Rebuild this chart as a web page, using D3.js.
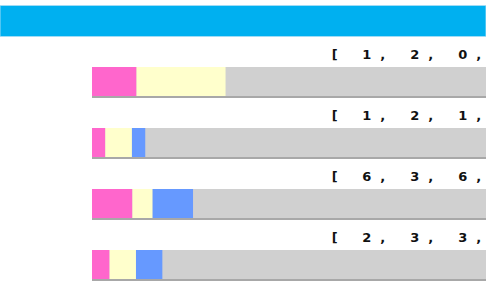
<!DOCTYPE html>
<html>
<head>
<meta charset="utf-8">
<script src="https://cdn.jsdelivr.net/npm/d3@7"></script>
<style>
  html, body { margin: 0; padding: 0; background: #fff; overflow: hidden; }
</style>
</head>
<body>
<svg id="chart"></svg>
<script>
// valori (righe visibili)
var rows = [0, 1, 2, 3];
var pinkValues   = [1, 1, 6, 2];
var yellowValues = [2, 2, 3, 3];
var blueValues   = [0, 1, 6, 3];
// totale stimato di ogni riga (la parte grigia e' il resto)
var rowTotals    = [8.85, 29.6, 58.5, 44.8];

var w = 486, h = 290;
var barLeft = 92, barRight = 486;

var svg = d3.select("#chart").attr("width", w).attr("height", h);

// fascia blu in alto
svg.append("rect")
  .attr("x", 0).attr("y", 5.5)
  .attr("width", w).attr("height", 31)
  .attr("fill", "#00b0f0")
  .attr("stroke", "#9fdcf6")
  .attr("stroke-width", 1);

// una banda per riga
var yBand = d3.scaleBand().domain(rows).range([45, 45 + 61 * rows.length]);

var colori = ["#ff66cc", "#ffffcc", "#6699ff"];

rows.forEach(function(i) {
  var top = yBand(i);
  var xScale = d3.scaleLinear().domain([0, rowTotals[i]]).range([barLeft, barRight]);
  var vals = [pinkValues[i], yellowValues[i], blueValues[i]];

  // etichetta: un carattere ogni 16px (passo fisso)
  var label = "[ " + vals.map(function(v) { return v + ","; }).join(" ");
  var xs = label.split("").map(function(c, k) { return 334.7 + k * 16; });
  svg.append("text")
    .attr("x", xs.join(" ")).attr("y", top + 14)
    .attr("text-anchor", "middle")
    .style("font-family", "'DejaVu Sans', Verdana, sans-serif")
    .style("font-weight", "bold")
    .style("font-size", "13px")
    .style("fill", "#111")
    .text(label);

  // sfondo grigio
  svg.append("rect")
    .attr("x", xScale(0)).attr("y", top + 22)
    .attr("width", xScale(rowTotals[i]) - xScale(0)).attr("height", 29)
    .attr("fill", "#d0d0d0");

  // segmenti impilati
  var acc = 0;
  vals.forEach(function(v, k) {
    svg.append("rect")
      .attr("x", xScale(acc)).attr("y", top + 22)
      .attr("width", xScale(acc + v) - xScale(acc)).attr("height", 29)
      .attr("fill", colori[k]);
    acc += v;
  });

  // bordo inferiore
  svg.append("rect")
    .attr("x", xScale(0)).attr("y", top + 51)
    .attr("width", xScale(rowTotals[i]) - xScale(0)).attr("height", 2)
    .attr("fill", "#a8a8a8");
});
</script>
</body>
</html>
